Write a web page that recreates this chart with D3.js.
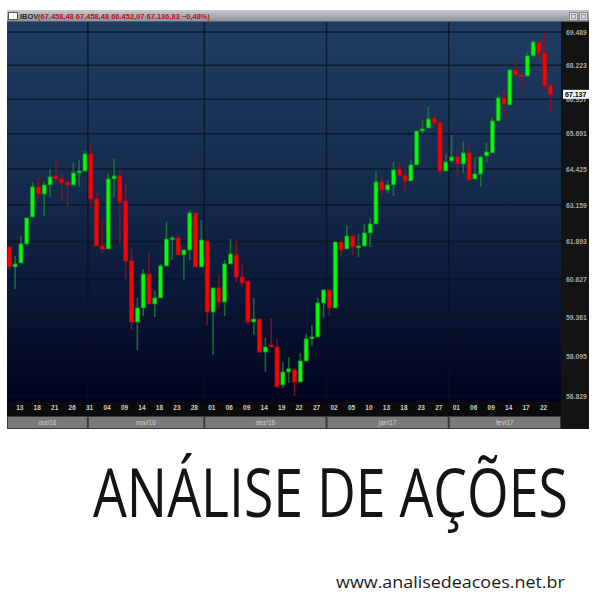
<!DOCTYPE html>
<html><head><meta charset="utf-8">
<script src="https://cdn.jsdelivr.net/npm/d3@7/dist/d3.min.js"></script>
<style>body{margin:0;background:#fff}svg{display:block}</style>
</head><body><svg id="c" width="600" height="600"></svg>
<script>
const symbol = "IBOV";
const dates = [
"2016-10-11","2016-10-13","2016-10-14","2016-10-17","2016-10-18","2016-10-19","2016-10-20","2016-10-21","2016-10-24","2016-10-25","2016-10-26","2016-10-27","2016-10-28","2016-10-31",
"2016-11-01","2016-11-03","2016-11-04","2016-11-07","2016-11-08","2016-11-09","2016-11-10","2016-11-11","2016-11-14","2016-11-16","2016-11-17","2016-11-18","2016-11-21","2016-11-22","2016-11-23","2016-11-24","2016-11-25","2016-11-28","2016-11-29","2016-11-30",
"2016-12-01","2016-12-02","2016-12-05","2016-12-06","2016-12-07","2016-12-08","2016-12-09","2016-12-12","2016-12-13","2016-12-14","2016-12-15","2016-12-16","2016-12-19","2016-12-20","2016-12-21","2016-12-22","2016-12-23","2016-12-26","2016-12-27","2016-12-28","2016-12-29",
"2017-01-02","2017-01-03","2017-01-04","2017-01-05","2017-01-06","2017-01-09","2017-01-10","2017-01-11","2017-01-12","2017-01-13","2017-01-16","2017-01-17","2017-01-18","2017-01-19","2017-01-20","2017-01-23","2017-01-24","2017-01-26","2017-01-27","2017-01-30","2017-01-31",
"2017-02-01","2017-02-02","2017-02-03","2017-02-06","2017-02-07","2017-02-08","2017-02-09","2017-02-10","2017-02-13","2017-02-14","2017-02-15","2017-02-16","2017-02-17","2017-02-20","2017-02-21","2017-02-22","2017-02-23","2017-02-24"];
const open = [
61707,61030,61165,61808,62738,63789,63541,63859,64177,64071,
63965,63859,64284,64354,64963,63364,61741,61639,64071,64177,
63293,61233,59202,59663,60793,59795,59994,61064,61979,62014,
61436,61605,62876,61030,61910,59530,60325,59861,61131,61436,
60691,60557,59202,59299,58228,58455,58390,57178,57590,57654,
57273,57940,58650,58715,59828,60259,59663,61876,61639,62083,
61707,61741,62186,62497,63965,63682,63859,64425,64177,64001,
64569,65790,65900,66267,66084,64354,64712,64855,64604,64999,
64071,64248,64891,64999,66157,67002,66744,68047,67861,67823,
68577,69109,68691,67458.48];
const high = [
61707,61402,62083,62704,63965,64142,63965,64425,64748,64284,
63965,64640,64748,65071,65322,63576,62704,64248,64784,64425,
63930,61639,59994,60962,61504,60226,61131,62566,62083,62117,
61605,62980,62876,62635,61910,60325,60759,61267,61979,61979,
61165,60557,59994,59299,58683,59332,58650,57908,58066,57717,
58196,58812,59105,59994,60292,60259,61876,61979,62462,62083,
62152,62497,62704,64354,64142,64036,64676,64676,64497,64748,
65790,66194,66671,66267,66084,64963,65644,65178,65429,65358,
64855,64855,65358,66304,67114,67300,68047,68501,67861,68729,
69185,69109,69489,67458.48];
const low = [
60928,60292,61165,61741,62704,63329,62773,63435,63930,63258,
63083,63859,63789,64319,63049,61741,61504,61639,63435,61842,
60591,58942,58293,59397,59795,59364,59994,61064,61267,61436,
60591,61267,61030,61030,59105,58131,59663,59397,61131,60524,
60359,59105,58780,58196,57590,58390,57115,57083,57241,56829,
57273,57940,58423,58715,59332,59397,59663,61368,61639,61436,
61368,61741,61707,62497,63400,63576,63470,64177,63612,64001,
64569,65680,65900,65973,64213,64354,64676,64177,64284,64036,
64071,63789,64640,64999,66157,66304,66744,67749,67226,67786,
68577,68349,67338,66452.07];
const close = [
61030,61131,61808,62704,63789,63541,63859,64142,64071,63930,
63859,64284,64354,64963,63364,61741,61639,64071,64177,63258,
61233,59202,59663,60793,59795,59994,61064,61979,62014,61436,
61605,62876,61030,61945,59530,60325,59861,61131,61470,60691,
60491,59202,59299,58228,58390,58390,57115,57590,57686,57273,
57940,58650,58715,59828,60259,59663,61876,61605,62083,61707,
61741,62186,62497,63965,63682,63859,64390,64177,64001,64569,
65790,65863,66230,66084,64354,64676,64855,64604,64999,64036,
64248,64855,65035,66157,67002,66781,68047,67861,67786,68577,
69109,68691,67461,67136.83];
const priceTicks = [56829,58095,59361,60627,61893,63159,64425,65691,66957,68223,69489];
const tickDates = ["2016-10-13","2016-10-18","2016-10-21","2016-10-26","2016-10-31",
"2016-11-04","2016-11-09","2016-11-14","2016-11-18","2016-11-23","2016-11-28",
"2016-12-01","2016-12-06","2016-12-09","2016-12-14","2016-12-19","2016-12-22","2016-12-27",
"2017-01-02","2017-01-05","2017-01-10","2017-01-13","2017-01-18","2017-01-23","2017-01-27",
"2017-02-01","2017-02-06","2017-02-09","2017-02-14","2017-02-17","2017-02-22"];
const monthStarts = ["2016-10-11","2016-11-01","2016-12-01","2017-01-02","2017-02-01"];
const monthLabels = ["out/16","nov/16","dez/16","jan/17","fev/17"];
const brandTitle = "ANÁLISE DE AÇÕES";
const brandUrl = "www.analisedeacoes.net.br";

const loc = d3.formatLocale({decimal:",", thousands:".", grouping:[3], currency:["R$",""]});
const f0 = loc.format(",.0f"), f2 = loc.format(",.2f");

const svg = d3.select("#c");
const defs = svg.append("defs");
const bg = defs.append("linearGradient").attr("id","bg").attr("x1",0).attr("x2",0).attr("y1",0).attr("y2",1);
bg.append("stop").attr("offset",0).attr("stop-color","#203d63");
bg.append("stop").attr("offset",0.5).attr("stop-color","#122749");
bg.append("stop").attr("offset",1).attr("stop-color","#01031f");
const tb = defs.append("linearGradient").attr("id","tb").attr("x1",0).attr("x2",0).attr("y1",0).attr("y2",1);
tb.append("stop").attr("offset",0).attr("stop-color","#c6cace");
tb.append("stop").attr("offset",1).attr("stop-color","#878e96");

const L = 7, R = 561, T = 22, B = 402, FR = 589;

// frame panels
svg.append("rect").attr("x",L).attr("y",10).attr("width",FR-L).attr("height",12).attr("fill","url(#tb)");
svg.append("line").attr("x1",L).attr("x2",FR).attr("y1",21.5).attr("y2",21.5).attr("stroke","#5a6068");
svg.append("rect").attr("x",R).attr("y",T).attr("width",FR-R).attr("height",429-T).attr("fill","#131313");
svg.append("rect").attr("x",L).attr("y",T).attr("width",R-L).attr("height",B-T).attr("fill","url(#bg)");
svg.append("rect").attr("x",L).attr("y",B).attr("width",R-L).attr("height",14).attr("fill","#0b0b0b");
svg.append("rect").attr("x",L).attr("y",416).attr("width",R-L).attr("height",13).attr("fill","#3a3a3a");

const x = d3.scaleBand().domain(dates).range([6.4, 553.5]).padding(0);
const y = d3.scaleLog().domain([56829, 69489]).range([396, 32]);
const cx = d => x(d) + x.bandwidth()/2;

// grid
const grid = svg.append("g");
grid.selectAll("line.h").data(priceTicks).join("line")
  .attr("x1",L).attr("x2",R).attr("y1",d=>y(d)).attr("y2",d=>y(d))
  .attr("stroke","#081222").attr("stroke-opacity",0.75).attr("stroke-width",1.5);
grid.selectAll("line.v").data(monthStarts.slice(1)).join("line")
  .attr("x1",d=>x(d)).attr("x2",d=>x(d)).attr("y1",T).attr("y2",B)
  .attr("stroke","#081222").attr("stroke-opacity",0.75).attr("stroke-width",1.5);

// candles
const idx = d3.range(dates.length);
const up = i => close[i] >= open[i];
const g = svg.append("g");
g.selectAll("line.w").data(idx).join("line")
  .attr("x1",i=>cx(dates[i])).attr("x2",i=>cx(dates[i]))
  .attr("y1",i=>y(high[i])).attr("y2",i=>y(low[i]))
  .attr("stroke",i=>up(i)?"#1c7a32":"#8a1222").attr("stroke-opacity",0.85).attr("stroke-width",1.6);
g.selectAll("rect.b").data(idx).join("rect")
  .attr("x",i=>cx(dates[i])-2).attr("width",4)
  .attr("y",i=>y(Math.max(open[i],close[i])))
  .attr("height",i=>Math.max(1.8, Math.abs(y(open[i])-y(close[i]))))
  .attr("fill",i=>up(i)?"#00ff00":"#ff0000")
  .attr("stroke",i=>up(i)?"#138a2a":"#a0101c").attr("stroke-width",0.8);

// price axis
const ya = svg.append("g").attr("transform",`translate(${R+5},0)`)
  .call(d3.axisRight(y).tickValues(priceTicks).tickFormat(f0).tickSize(0).tickPadding(0));
ya.select(".domain").remove();
ya.selectAll("text").attr("font-family","Liberation Sans, Arial, sans-serif").attr("font-size",6.8)
  .attr("fill","#a8a8a8").attr("font-weight","bold");

// last price box
const lc = close[close.length-1];
svg.append("rect").attr("x",R+2).attr("y",y(lc)-4.5).attr("width",26).attr("height",9).attr("fill","#f4f4f4");
svg.append("text").attr("x",R+4).attr("y",y(lc)).attr("dy","0.35em").text(f0(lc))
  .attr("font-family","Liberation Sans, Arial, sans-serif").attr("font-size",7).attr("font-weight","bold").attr("fill","#000");

// date axis
const pd = d3.timeParse("%Y-%m-%d"), fd = d3.timeFormat("%d");
const xa = svg.append("g").attr("transform",`translate(0,${B})`)
  .call(d3.axisBottom(x).tickValues(tickDates).tickFormat(d=>fd(pd(d))).tickSize(0).tickPadding(3));
xa.select(".domain").remove();
xa.selectAll("text").attr("text-anchor","start").attr("dx",1)
  .attr("font-family","Liberation Sans, Arial, sans-serif").attr("font-size",6.5).attr("font-weight","bold").attr("fill","#cfcfcf");

// month row
const mEdges = monthStarts.map(d=>x(d)); mEdges[0] = L; mEdges.push(R);
const mr = svg.append("g");
monthLabels.forEach((m,i)=>{
  mr.append("rect").attr("x",mEdges[i]+1).attr("y",417).attr("width",mEdges[i+1]-mEdges[i]-2).attr("height",11).attr("fill","#7a7a7a");
  mr.append("text").attr("x",(mEdges[i]+mEdges[i+1])/2).attr("y",422.5).attr("dy","0.35em").attr("text-anchor","middle")
    .attr("font-family","Liberation Sans, Arial, sans-serif").attr("font-size",6.5).attr("fill","#d0d0d0").text(m);
});

// title bar
svg.append("rect").attr("x",8.5).attr("y",12.5).attr("width",9).attr("height",7).attr("fill","#fff").attr("stroke","#555");
svg.append("text").attr("x",20).attr("y",19).text(symbol)
  .attr("font-family","Liberation Sans, Arial, sans-serif").attr("font-size",7.5).attr("font-weight","bold").attr("fill","#2a2a2a");
const n = close.length-1;
const chg = (close[n]-close[n-1])/close[n-1]*100;
svg.append("text").attr("x",38).attr("y",19)
  .text(`(${f2(open[n])}  ${f2(high[n])}  ${f2(low[n])}  ${f2(close[n])}  ${loc.format(".2f")(chg)}%)`)
  .attr("font-family","Liberation Sans, Arial, sans-serif").attr("font-size",7).attr("font-weight","bold").attr("fill","#c01020")
  .attr("textLength",172).attr("lengthAdjust","spacingAndGlyphs");
[569,579].forEach(bx=>{
  svg.append("rect").attr("x",bx+0.5).attr("y",12.5).attr("width",8).attr("height",8).attr("fill","#dcdcdc").attr("stroke","#8a8a8a");
  svg.append("rect").attr("x",bx+2.5).attr("y",14.5).attr("width",4).attr("height",4).attr("fill","none").attr("stroke","#9a9a9a");
});

// brand text, scaled horizontally to the reference width
function fitText(str, x0, base, size, width, color){
  const t = svg.append("text").attr("x",0).attr("y",0).text(str)
    .attr("font-family","Open Sans, sans-serif").attr("font-size",size).attr("fill",color);
  const w = t.node().getComputedTextLength();
  t.attr("transform",`translate(${x0},${base}) scale(${width/w},1)`);
}
fitText(brandTitle, 93, 517, 67, 475, "#141414");
fitText(brandUrl, 336, 588, 17, 229, "#1a1a1a");
</script></body></html>
